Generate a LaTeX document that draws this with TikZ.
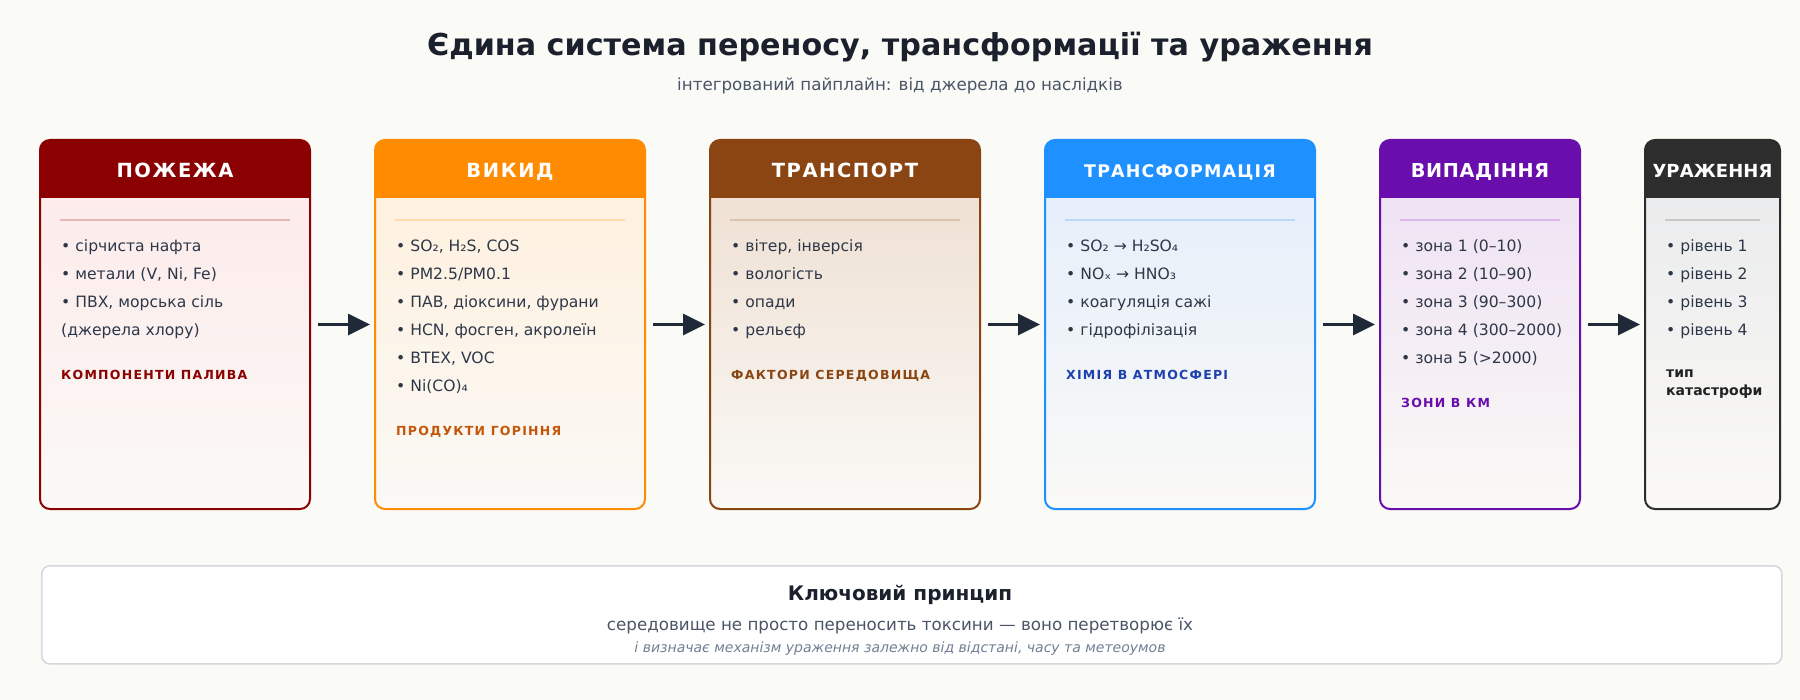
\documentclass[tikz,border=0pt]{standalone}
\usepackage{fontspec}
\setmainfont{DejaVu Sans}
\newfontfamily\hdrfont{DejaVu Sans}[LetterSpace=8]
\newfontfamily\lblfont{DejaVu Sans}[LetterSpace=10]
\usetikzlibrary{arrows.meta}
\definecolor{pagebg}{HTML}{FAFAF7}
\definecolor{bodybot}{HTML}{FAF9F6}
\definecolor{txt}{HTML}{2D3748}
\definecolor{ttl}{HTML}{1A202C}
\definecolor{sub}{HTML}{4A5568}
\definecolor{note}{HTML}{718096}
\definecolor{arrowc}{HTML}{1F2937}
\definecolor{keyborder}{HTML}{D5D9DF}
% stage colours: header, tint, divider, label
\definecolor{hA}{HTML}{8B0000}\definecolor{tA}{HTML}{FDE9E9}\definecolor{dA}{HTML}{E6B7B9}\definecolor{lA}{HTML}{8B0000}
\definecolor{hB}{HTML}{FF8C00}\definecolor{tB}{HTML}{FFEFDB}\definecolor{dB}{HTML}{FFDCB0}\definecolor{lB}{HTML}{C2570C}
\definecolor{hC}{HTML}{8B4513}\definecolor{tC}{HTML}{EDDCCD}\definecolor{dC}{HTML}{DCC3B0}\definecolor{lC}{HTML}{8B4513}
\definecolor{hD}{HTML}{1E90FF}\definecolor{tD}{HTML}{E2EDFB}\definecolor{dD}{HTML}{BCD8F8}\definecolor{lD}{HTML}{1E40AF}
\definecolor{hE}{HTML}{6A0DAD}\definecolor{tE}{HTML}{EDDFF3}\definecolor{dE}{HTML}{D8B9EA}\definecolor{lE}{HTML}{6A0DAD}
\definecolor{hF}{HTML}{2D2D2D}\definecolor{tF}{HTML}{E8E9EB}\definecolor{dF}{HTML}{C8C8C8}\definecolor{lF}{HTML}{222222}
\begin{document}
\begin{tikzpicture}[x=1pt,y=-1pt,
  stagebox/.style n args={2}{draw=#1, line width=2pt, rounded corners=10pt,
    minimum height=369pt, anchor=north west, inner sep=0pt, outer sep=0pt,
    path picture={
      \shade[sharp corners, top color=#2, bottom color=bodybot]
        ([yshift=-58pt]path picture bounding box.north west) rectangle (path picture bounding box.south east);
      \fill[sharp corners, #1]
        (path picture bounding box.north west) rectangle ([yshift=-58pt]path picture bounding box.north east);
    }},
  hdr/.style={anchor=base, text=white, inner sep=0pt, font=\hdrfont\bfseries\fontsize{19.5pt}{22pt}\selectfont},
  divline/.style={draw=#1, line width=2pt},
  item/.style={anchor=base west, text=txt, inner sep=0pt, font=\fontsize{15.6pt}{18pt}\selectfont},
  lbl/.style={anchor=base west, text=#1, inner sep=0pt, font=\lblfont\bfseries\fontsize{12.5pt}{15pt}\selectfont},
  flow/.style={draw=arrowc, line width=3pt, -{Triangle[length=22pt,width=21pt]}, shorten <=8pt, shorten >=5pt},
  keybox/.style={draw=keyborder, line width=1.6pt, fill=white, rounded corners=8pt, anchor=north west,
    minimum width=1740pt, minimum height=98pt, inner sep=0pt},
]
\fill[pagebg] (0,0) rectangle (1800,700);
\useasboundingbox (0,0) rectangle (1800,700);

% title
\node[anchor=base, text=ttl, inner sep=0pt, font=\bfseries\fontsize{30.2pt}{34pt}\selectfont] (title) at (900,56)
  {Єдина система переносу, трансформації та ураження};
\node[anchor=base, text=sub, inner sep=0pt, font=\fontsize{16.7pt}{20pt}\selectfont] (subtitle) at (900,91)
  {інтегрований пайплайн: від джерела до наслідків};

% stages
\node[stagebox={hA}{tA}, minimum width=270pt] (b1) at (40,140) {};
\node[stagebox={hB}{tB}, minimum width=270pt] (b2) at (375,140) {};
\node[stagebox={hC}{tC}, minimum width=270pt] (b3) at (710,140) {};
\node[stagebox={hD}{tD}, minimum width=270pt] (b4) at (1045,140) {};
\node[stagebox={hE}{tE}, minimum width=200pt] (b5) at (1380,140) {};
\node[stagebox={hF}{tF}, minimum width=135pt] (b6) at (1645,140) {};

% headers
\node[hdr] (h1) at ([yshift=-38pt]b1.north) {ПОЖЕЖА};
\node[hdr] (h2) at ([yshift=-38pt]b2.north) {ВИКИД};
\node[hdr] (h3) at ([yshift=-38pt]b3.north) {ТРАНСПОРТ};
\node[hdr, font=\hdrfont\bfseries\fontsize{17.4pt}{22pt}\selectfont\addfontfeature{LetterSpace=7}] (h4) at ([yshift=-38pt]b4.north) {ТРАНСФОРМАЦІЯ};
\node[hdr, font=\hdrfont\bfseries\fontsize{19.2pt}{22pt}\selectfont\addfontfeature{LetterSpace=3.5}] (h5) at ([yshift=-38pt]b5.north) {ВИПАДІННЯ};
\node[hdr, font=\hdrfont\bfseries\fontsize{18pt}{22pt}\selectfont\addfontfeature{LetterSpace=0.5}] (h6) at ([yshift=-38pt]b6.north) {УРАЖЕННЯ};

% dividers
\foreach \b/\c in {b1/dA,b2/dB,b3/dC,b4/dD,b5/dE,b6/dF}
  \draw[divline=\c] ([xshift=20pt,yshift=-80pt]\b.north west) -- ([xshift=-20pt,yshift=-80pt]\b.north east);

% items
\foreach \t [count=\i] in {{• сірчиста нафта},{• метали (V, Ni, Fe)},{• ПВХ, морська сіль},{(джерела хлору)}}
  \node[item] (b1i\i) at ([xshift=21pt,yshift={-112pt-28pt*(\i-1)}]b1.north west) {\t};
\foreach \t [count=\i] in {{SO₂, H₂S, COS},{PM2.5/PM0.1},{ПАВ, діоксини, фурани},{HCN, фосген, акролеїн},{BTEX, VOC},{Ni(CO)₄}}
  \node[item] (b2i\i) at ([xshift=21pt,yshift={-112pt-28pt*(\i-1)}]b2.north west) {• \t};
\foreach \t [count=\i] in {{вітер, інверсія},{вологість},{опади},{рельєф}}
  \node[item] (b3i\i) at ([xshift=21pt,yshift={-112pt-28pt*(\i-1)}]b3.north west) {• \t};
\foreach \t [count=\i] in {{SO₂ → H₂SO₄},{NOₓ → HNO₃},{коагуляція сажі},{гідрофілізація}}
  \node[item] (b4i\i) at ([xshift=21pt,yshift={-112pt-28pt*(\i-1)}]b4.north west) {• \t};
\foreach \t [count=\i] in {{зона 1 (0–10)},{зона 2 (10–90)},{зона 3 (90–300)},{зона 4 (300–2000)},{зона 5 (>2000)}}
  \node[item] (b5i\i) at ([xshift=21pt,yshift={-112pt-28pt*(\i-1)}]b5.north west) {• \t};
\foreach \t [count=\i] in {{рівень 1},{рівень 2},{рівень 3},{рівень 4}}
  \node[item] (b6i\i) at ([xshift=21pt,yshift={-112pt-28pt*(\i-1)}]b6.north west) {• \t};

% labels
\node[lbl=lA] (l1) at ([xshift=21pt,yshift=-240pt]b1.north west) {КОМПОНЕНТИ ПАЛИВА};
\node[lbl=lB] (l2) at ([xshift=21pt,yshift=-296pt]b2.north west) {ПРОДУКТИ ГОРІННЯ};
\node[lbl=lC] (l3) at ([xshift=21pt,yshift=-240pt]b3.north west) {ФАКТОРИ СЕРЕДОВИЩА};
\node[lbl=lD] (l4) at ([xshift=21pt,yshift=-240pt]b4.north west) {ХІМІЯ В АТМОСФЕРІ};
\node[lbl=lE] (l5) at ([xshift=21pt,yshift=-268pt]b5.north west) {ЗОНИ В КМ};
\node[lbl=lF, font=\bfseries\fontsize{14pt}{16pt}\selectfont] (l6a) at ([xshift=21pt,yshift=-238pt]b6.north west) {тип};
\node[lbl=lF, font=\bfseries\fontsize{14pt}{16pt}\selectfont] (l6b) at ([xshift=21pt,yshift=-256pt]b6.north west) {катастрофи};

% connectors
\draw[flow] (b1.east) -- (b2.west);
\draw[flow] (b2.east) -- (b3.west);
\draw[flow] (b3.east) -- (b4.west);
\draw[flow] (b4.east) -- (b5.west);
\draw[flow] (b5.east) -- (b6.west);

% key principle
\node[keybox] (key) at (41,565) {};
\node[anchor=base, text=ttl, inner sep=0pt, font=\bfseries\fontsize{20pt}{23pt}\selectfont] (k1) at (900,600) {Ключовий принцип};
\node[anchor=base, text=sub, inner sep=0pt, font=\fontsize{16.7pt}{19pt}\selectfont] (k2) at (900,630)
  {середовище не просто переносить токсини — воно перетворює їх};
\node[anchor=base, text=note, inner sep=0pt, font=\itshape\fontsize{14pt}{16pt}\selectfont] (k3) at (900,652)
  {і визначає механізм ураження залежно від відстані, часу та метеоумов};
\end{tikzpicture}
\end{document}
